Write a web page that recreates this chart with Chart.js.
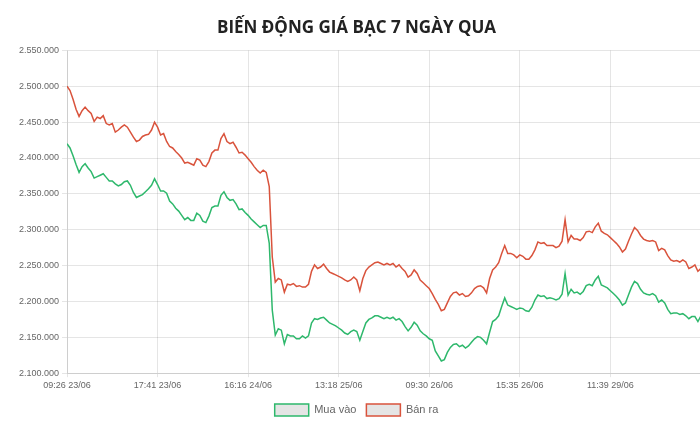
<!DOCTYPE html>
<html><head><meta charset="utf-8">
<script src="https://cdn.jsdelivr.net/npm/chart.js@4.4.0/dist/chart.umd.min.js"></script>
<style>
html,body{margin:0;padding:0;background:#fff;overflow:hidden;width:700px;height:427px}
#wrap{width:716px;height:427px}
</style></head>
<body><div id="wrap"><canvas id="c" width="716" height="427"></canvas></div>
<script>
const TITLE = 'BIẾN ĐỘNG GIÁ BẠC 7 NGÀY QUA';
const SERIES_NAMES = ['Mua vào', 'Bán ra'];
const TICK_LABELS = ['09:26 23/06','17:41 23/06','16:16 24/06','13:18 25/06','09:30 26/06','15:35 26/06','11:39 29/06'];
const TICK_EVERY = 30;
const Y_TICKS = [2100000,2150000,2200000,2250000,2300000,2350000,2400000,2450000,2500000,2550000];
const UNIT = 1000;

// Bán ra (thousand VND)
const sellK = [
2500,2494,2482,2468,2458,2466,2471,2466,2462,2451,
2457,2455,2459,2448,2446,2448,2436,2439,2443,2446,
2443,2436,2429,2423,2425,2430,2432,2433,2439,2450,
2443,2432,2434,2423,2416,2414,2409,2405,2400,2393,
2394,2392,2390,2399,2397,2390,2388,2395,2407,2411,
2411,2427,2434,2423,2420,2422,2415,2407,2408,2404,
2399,2394,2388,2383,2379,2383,2380,2360,2262,2227,
2232,2230,2213,2224,2223,2225,2221,2222,2220,2220,
2224,2242,2251,2246,2248,2252,2246,2241,2239,2237,
2235,2233,2230,2228,2230,2234,2230,2215,2232,2243,
2248,2251,2254,2255,2253,2251,2253,2251,2253,2248,
2251,2246,2242,2234,2237,2244,2239,2230,2226,2222,
2218,2211,2203,2196,2187,2189,2198,2207,2212,2213,
2209,2211,2207,2208,2212,2218,2221,2222,2219,2212,
2232,2244,2248,2254,2267,2278,2267,2267,2265,2261,
2265,2263,2259,2259,2264,2272,2283,2281,2282,2278,
2278,2278,2275,2277,2284,2314,2283,2292,2287,2287,
2285,2289,2297,2298,2296,2304,2309,2298,2295,2293,
2289,2285,2281,2276,2269,2273,2284,2294,2303,2299,
2292,2287,2285,2284,2285,2283,2271,2274,2272,2264,
2258,2256,2257,2255,2258,2255,2246,2248,2251,2242,
2246,2244,2250,2243,2247
];

// Mua vào (thousand VND)
const buyK = [
2420,2414,2403,2391,2380,2388,2392,2386,2381,2372,
2374,2376,2378,2373,2368,2368,2364,2361,2363,2367,
2368,2362,2352,2345,2347,2349,2353,2357,2362,2371,
2363,2354,2354,2351,2340,2336,2330,2326,2320,2314,
2317,2313,2313,2323,2320,2312,2310,2319,2331,2333,
2333,2348,2353,2345,2341,2342,2336,2328,2329,2324,
2320,2315,2311,2307,2303,2306,2306,2281,2188,2153,
2162,2160,2141,2154,2152,2152,2148,2148,2152,2149,
2152,2170,2176,2175,2177,2178,2174,2170,2168,2166,
2163,2160,2156,2154,2158,2160,2158,2146,2158,2170,
2175,2177,2180,2180,2178,2176,2178,2176,2178,2174,
2176,2172,2165,2159,2164,2171,2167,2159,2155,2152,
2148,2146,2131,2124,2117,2119,2129,2136,2140,2141,
2137,2139,2135,2138,2143,2148,2151,2150,2146,2141,
2157,2172,2175,2180,2193,2205,2195,2193,2191,2189,
2191,2190,2187,2186,2192,2202,2209,2207,2208,2204,
2205,2204,2202,2204,2210,2239,2209,2217,2212,2213,
2210,2214,2222,2224,2222,2230,2235,2223,2221,2219,
2215,2211,2207,2202,2195,2198,2209,2220,2228,2225,
2217,2212,2210,2209,2211,2208,2199,2202,2198,2189,
2183,2184,2184,2182,2183,2180,2176,2179,2179,2172,
2180,2171,2178,2172,2176
];

const GREEN = 'rgb(46,184,108)';
const RED = 'rgb(217,83,60)';
const fmt = v => String(Math.round(v)).replace(/\B(?=(\d{3})+(?!\d))/g, '.');
const toPts = arr => arr.map((v, i) => ({ x: i, y: v * UNIT }));

Chart.defaults.font.family = '"Liberation Sans", Arial, sans-serif';
Chart.defaults.color = '#666';

new Chart(document.getElementById('c'), {
  type: 'line',
  data: {
    datasets: [
      { label: SERIES_NAMES[0], data: toPts(buyK), borderColor: GREEN, backgroundColor: 'rgba(0,0,0,0.1)',
        borderWidth: 1.5, pointRadius: 0, tension: 0, fill: false },
      { label: SERIES_NAMES[1], data: toPts(sellK), borderColor: RED, backgroundColor: 'rgba(0,0,0,0.1)',
        borderWidth: 1.5, pointRadius: 0, tension: 0, fill: false }
    ]
  },
  options: {
    responsive: false,
    animation: false,
    layout: { padding: { left: 0, right: 3, top: 0, bottom: 1 } },
    plugins: {
      title: { display: true, text: TITLE, color: '#222',
        font: { family: '"Open Sans", "Liberation Sans", Arial, sans-serif', size: 17, weight: 'bold' },
        padding: { top: 18, bottom: 12 } },
      legend: { position: 'bottom', labels: { boxWidth: 34, boxHeight: 12, color: '#666', font: { size: 11 } } },
      tooltip: { enabled: false }
    },
    scales: {
      x: {
        type: 'linear', min: 0, max: sellK.length - 1,
        afterBuildTicks: s => { s.ticks = TICK_LABELS.map((_, k) => ({ value: k * TICK_EVERY })); },
        ticks: { autoSkip: false, maxRotation: 0, font: { size: 9 }, color: '#666',
          callback: v => TICK_LABELS[Math.round(v / TICK_EVERY)] || '' },
        grid: { color: 'rgba(0,0,0,0.1)', tickLength: 4 }
      },
      y: {
        min: Y_TICKS[0], max: Y_TICKS[Y_TICKS.length - 1],
        afterBuildTicks: s => { s.ticks = Y_TICKS.map(v => ({ value: v })); },
        afterFit: s => { s.width = 67; },
        ticks: { font: { size: 9 }, color: '#666', callback: v => fmt(v) },
        grid: { color: 'rgba(0,0,0,0.1)', tickLength: 5 }
      }
    }
  }
});
</script>
</body></html>
